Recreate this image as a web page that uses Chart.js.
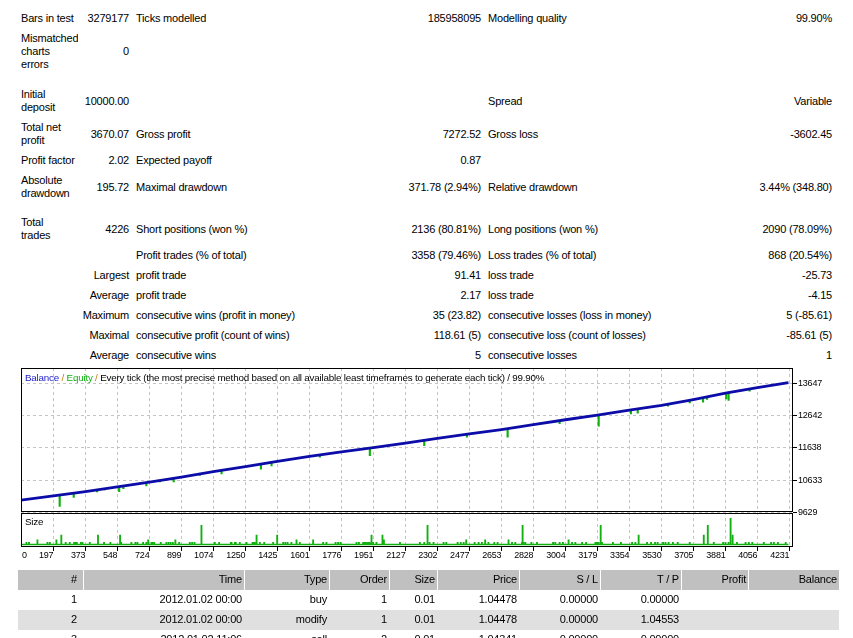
<!DOCTYPE html>
<html>
<head>
<meta charset="utf-8">
<title>Strategy Tester Report</title>
<script src="https://cdn.jsdelivr.net/npm/chart.js@4.4.1/dist/chart.umd.min.js"></script>
<style>
  html, body { margin: 0; padding: 0; background: #fff; overflow: hidden; }
  body { width: 853px; height: 638px; position: relative; font-family: "Liberation Sans", Arial, sans-serif; font-size: 11px; letter-spacing: -0.2px; color: #000; }
  #stats { position: absolute; left: 17px; top: 8px; width: 819px; border-collapse: separate; border-spacing: 1px; table-layout: fixed; }
  #stats td { padding: 3px; line-height: 13px; vertical-align: middle; white-space: nowrap; overflow: hidden; }
  #stats td.r { text-align: right; }
  #stats tr.gap td { height: 9px; padding: 0; }
  #stats tr.gap2 td { height: 8px; padding: 0; }
  #chartBox { position: absolute; left: 0; top: 360px; width: 853px; height: 212px; }
  #trades { position: absolute; left: 18px; top: 570px; width: 821px; border-collapse: separate; border-spacing: 0; table-layout: fixed; }
  #trades td { padding: 3px 2px 4px 0; line-height: 13px; text-align: right; white-space: nowrap; }
  #trades td:first-child { padding-right: 6px; }
  #trades tr.head td { background: #c0c0c0; border-left: 1px solid #fff; }
  #trades tr.head td:first-child { border-left: 0; }
  #trades tr.alt td { background: #e0e0e0; }
</style>
</head>
<body>

<table id="stats">
  <colgroup><col style="width:60px"><col style="width:53px"><col style="width:210px"><col style="width:140px"><col style="width:200px"><col style="width:149px"></colgroup>
  <tr><td>Bars in test</td><td class="r">3279177</td><td>Ticks modelled</td><td class="r">185958095</td><td>Modelling quality</td><td class="r">99.90%</td></tr>
  <tr><td>Mismatched<br>charts<br>errors</td><td class="r">0</td><td></td><td></td><td></td><td></td></tr>
  <tr class="gap"><td colspan="6"></td></tr>
  <tr><td>Initial<br>deposit</td><td class="r">10000.00</td><td></td><td></td><td>Spread</td><td class="r">Variable</td></tr>
  <tr><td>Total net<br>profit</td><td class="r">3670.07</td><td>Gross profit</td><td class="r">7272.52</td><td>Gross loss</td><td class="r">-3602.45</td></tr>
  <tr><td>Profit factor</td><td class="r">2.02</td><td>Expected payoff</td><td class="r">0.87</td><td></td><td></td></tr>
  <tr><td>Absolute<br>drawdown</td><td class="r">195.72</td><td>Maximal drawdown</td><td class="r">371.78 (2.94%)</td><td>Relative drawdown</td><td class="r">3.44% (348.80)</td></tr>
  <tr class="gap2"><td colspan="6"></td></tr>
  <tr><td>Total<br>trades</td><td class="r">4226</td><td>Short positions (won %)</td><td class="r">2136 (80.81%)</td><td>Long positions (won %)</td><td class="r">2090 (78.09%)</td></tr>
  <tr><td colspan="2"></td><td>Profit trades (% of total)</td><td class="r">3358 (79.46%)</td><td>Loss trades (% of total)</td><td class="r">868 (20.54%)</td></tr>
  <tr><td colspan="2" class="r">Largest</td><td>profit trade</td><td class="r">91.41</td><td>loss trade</td><td class="r">-25.73</td></tr>
  <tr><td colspan="2" class="r">Average</td><td>profit trade</td><td class="r">2.17</td><td>loss trade</td><td class="r">-4.15</td></tr>
  <tr><td colspan="2" class="r">Maximum</td><td>consecutive wins (profit in money)</td><td class="r">35 (23.82)</td><td>consecutive losses (loss in money)</td><td class="r">5 (-85.61)</td></tr>
  <tr><td colspan="2" class="r">Maximal</td><td>consecutive profit (count of wins)</td><td class="r">118.61 (5)</td><td>consecutive loss (count of losses)</td><td class="r">-85.61 (5)</td></tr>
  <tr><td colspan="2" class="r">Average</td><td>consecutive wins</td><td class="r">5</td><td>consecutive losses</td><td class="r">1</td></tr>
</table>

<div id="chartBox"><canvas id="equityChart" width="853" height="212"></canvas></div>

<table id="trades">
  <colgroup><col style="width:65px"><col style="width:161px"><col style="width:85px"><col style="width:60px"><col style="width:48px"><col style="width:82px"><col style="width:81px"><col style="width:81px"><col style="width:67px"><col style="width:91px"></colgroup>
  <tr class="head"><td>#</td><td>Time</td><td>Type</td><td>Order</td><td>Size</td><td>Price</td><td>S / L</td><td>T / P</td><td>Profit</td><td>Balance</td></tr>
  <tr><td>1</td><td>2012.01.02 00:00</td><td>buy</td><td>1</td><td>0.01</td><td>1.04478</td><td>0.00000</td><td>0.00000</td><td></td><td></td></tr>
  <tr class="alt"><td>2</td><td>2012.01.02 00:00</td><td>modify</td><td>1</td><td>0.01</td><td>1.04478</td><td>0.00000</td><td>1.04553</td><td></td><td></td></tr>
  <tr><td>3</td><td>2012.01.02 11:06</td><td>sell</td><td>2</td><td>0.01</td><td>1.04341</td><td>0.00000</td><td>0.00000</td><td></td><td></td></tr>
</table>

<script>
"use strict";

// axis labels as printed in the report picture
const xTickLabels = [0, 197, 373, 548, 724, 899, 1074, 1250, 1425, 1601, 1776, 1951, 2127,
    2302, 2477, 2653, 2828, 3004, 3179, 3354, 3530, 3705, 3881, 4056, 4231];
const yTickValues = [9629, 10633, 11638, 12642, 13647];

// balance curve, read at each grid line
const balanceTrades = [0, 197, 373, 548, 724, 899, 1074, 1250, 1425, 1601, 1776, 1951, 2127,
    2302, 2477, 2653, 2828, 3004, 3179, 3354, 3530, 3705, 3881, 4056, 4226];
const balanceValues = [10000, 10145, 10277, 10424, 10574, 10730, 10903, 11059, 11222, 11378,
    11513, 11647, 11788, 11935, 12073, 12210, 12361, 12514, 12661, 12811, 12958, 13140, 13343,
    13515, 13670];

// equity dips below the balance line (trade number, lowest equity, balance at that trade)
const dipTrades = [232, 309, 437, 479, 558, 581, 707, 781, 857, 1000, 1119, 1335, 1393, 1658,
    1932, 2230, 2464, 2687, 2972, 3186, 3363, 3400, 3566, 3685, 3758, 3780, 3885, 3898, 4013];
const dipLows = [9817, 10098, 10267, 10330, 10277, 10371, 10455, 10580, 10580, 10780, 10831,
    10974, 11081, 11350, 11394, 11707, 11976, 11976, 12395, 12311, 12695, 12717, 12935, 13040,
    13060, 13146, 13165, 13115, 13406];
const dipTops = [10160, 10215, 10315, 10345, 10420, 10450, 10565, 10635, 10680, 10810, 10925,
    11100, 11175, 11410, 11620, 11870, 12060, 12240, 12470, 12660, 12800, 12840, 12995, 13120,
    13200, 13225, 13320, 13340, 13470];

// lot sizes above the minimum lot
const baseLot = 0.01;
const totalTrades = 4226;
const sizeTrades = [50, 64, 110, 165, 178, 214, 241, 265, 287, 311, 318, 326, 348, 357, 397, 442,
    475, 510, 563, 569, 625, 647, 658, 689, 707, 717, 735, 742, 750, 786, 817, 829, 840, 852, 866,
    887, 945, 958, 971, 1009, 1082, 1106, 1170, 1174, 1192, 1197, 1219, 1256, 1289, 1296, 1302,
    1311, 1329, 1353, 1402, 1424, 1457, 1469, 1481, 1502, 1530, 1548, 1621, 1676, 1694, 1744,
    1758, 1771, 1859, 1872, 1895, 1902, 1909, 1917, 1924, 1932, 1941, 1950, 1968, 2001, 2009,
    2097, 2206, 2230, 2248, 2259, 2281, 2336, 2351, 2413, 2430, 2446, 2460, 2506, 2528, 2546,
    2564, 2582, 2614, 2632, 2692, 2711, 2729, 2766, 2769, 2775, 2784, 2817, 2848, 2936, 2948,
    2972, 2990, 3021, 3040, 3058, 3095, 3117, 3168, 3177, 3186, 3197, 3204, 3264, 3308, 3369,
    3387, 3405, 3451, 3473, 3495, 3509, 3539, 3552, 3569, 3593, 3619, 3685, 3762, 3784, 3817,
    3868, 3881, 3898, 3909, 3920, 3944, 3991, 4009, 4028, 4091, 4131, 4146, 4168, 4211];
const sizeLots = [0.02, 0.02, 0.03, 0.02, 0.02, 0.03, 0.05, 0.02, 0.02, 0.02, 0.02, 0.02, 0.02,
    0.02, 0.02, 0.05, 0.02, 0.02, 0.05, 0.02, 0.02, 0.02, 0.02, 0.02, 0.02, 0.03, 0.02, 0.02,
    0.02, 0.02, 0.02, 0.02, 0.02, 0.02, 0.03, 0.02, 0.02, 0.02, 0.02, 0.09, 0.02, 0.02, 0.02,
    0.02, 0.02, 0.02, 0.02, 0.02, 0.02, 0.02, 0.02, 0.05, 0.02, 0.02, 0.02, 0.05, 0.02, 0.02,
    0.02, 0.02, 0.03, 0.02, 0.03, 0.02, 0.02, 0.02, 0.02, 0.02, 0.02, 0.02, 0.02, 0.02, 0.02,
    0.02, 0.02, 0.02, 0.05, 0.02, 0.02, 0.05, 0.03, 0.02, 0.02, 0.02, 0.09, 0.02, 0.02, 0.02,
    0.02, 0.02, 0.02, 0.02, 0.03, 0.02, 0.02, 0.02, 0.03, 0.02, 0.02, 0.02, 0.03, 0.02, 0.02,
    0.02, 0.09, 0.02, 0.02, 0.02, 0.02, 0.02, 0.02, 0.02, 0.02, 0.03, 0.02, 0.02, 0.02, 0.02,
    0.02, 0.02, 0.02, 0.09, 0.02, 0.02, 0.02, 0.02, 0.02, 0.05, 0.02, 0.02, 0.02, 0.02, 0.02,
    0.02, 0.02, 0.02, 0.02, 0.02, 0.05, 0.09, 0.02, 0.02, 0.02, 0.02, 0.12, 0.05, 0.02, 0.02,
    0.02, 0.02, 0.02, 0.02, 0.02, 0.02, 0.02];

const titleParts = [
    { text: 'Balance', color: '#1a1ac8' },
    { text: ' / ', color: '#c07800' },
    { text: 'Equity', color: '#10b010' },
    { text: ' / ', color: '#c07800' },
    { text: 'Every tick (the most precise method based on all available least timeframes to generate each tick) / 99.90%', color: '#000000' }
];

const gridColor = '#c4c4c4';
const titleFont = '9.8px "Liberation Sans", Arial, sans-serif';
const labelFont = '9px "Liberation Sans", Arial, sans-serif';

Chart.defaults.font.family = '"Liberation Sans", Arial, sans-serif';
Chart.defaults.font.size = 9;
Chart.defaults.color = '#000000';

/**
 * Ramar, rubrik och x-etiketter ritas som i MT4-bilden.
 */
const reportFrame = {
    id: 'reportFrame',
    afterDraw(chart) {
        const { ctx, chartArea, scales } = chart;
        const main = scales.y;
        const size = scales.ySize;
        const x = scales.x;

        const left = Math.round(chartArea.left) + 0.5;
        const right = Math.round(chartArea.right) - 0.5;
        const mainTop = Math.floor(main.top) + 0.5;
        const mainBottom = Math.floor(main.bottom) - 0.5;
        const sizeTop = Math.floor(size.top) + 1.5;
        const sizeBottom = Math.round(size.bottom) - 0.5;

        ctx.save();
        ctx.strokeStyle = '#000000';
        ctx.lineWidth = 1;
        ctx.strokeRect(left, mainTop, right - left, mainBottom - mainTop);
        ctx.strokeRect(left, sizeTop, right - left, sizeBottom - sizeTop);

        ctx.font = titleFont;
        ctx.textBaseline = 'middle';
        ctx.textAlign = 'left';
        let tx = left + 3.5;
        titleParts.forEach(part => {
            ctx.fillStyle = part.color;
            ctx.fillText(part.text, tx, mainTop + 9.5);
            tx += ctx.measureText(part.text).width;
        });

        ctx.fillStyle = '#000000';
        ctx.fillText('Size', left + 3.5, sizeTop + 8.5);

        // MT4 skriver etiketten till vänster om stödlinjen
        ctx.font = labelFont;
        xTickLabels.forEach(value => {
            if (value < x.min) {
                ctx.textAlign = 'left';
                ctx.fillText(String(value), chartArea.left + 1, chartArea.bottom + 8.5);
            } else {
                ctx.textAlign = 'right';
                ctx.fillText(String(value), x.getPixelForValue(value), chartArea.bottom + 8.5);
            }
        });
        ctx.restore();
    }
};

const ctx = document.getElementById('equityChart');

new Chart(ctx, {
    data: {
        datasets: [
            {
                type: 'line',
                label: 'Balance',
                data: balanceTrades.map((t, i) => ({ x: t, y: balanceValues[i] })),
                borderColor: '#0c0ca8',
                borderWidth: 2.8,
                pointRadius: 0,
                tension: 0,
                xAxisID: 'x',
                yAxisID: 'y',
                order: 0
            },
            {
                type: 'bar',
                label: 'Equity',
                data: dipTrades.map((t, i) => ({ x: t, y: [dipLows[i], dipTops[i]] })),
                backgroundColor: '#10b010',
                barThickness: 1.5,
                grouped: false,
                xAxisID: 'x',
                yAxisID: 'y',
                order: 1
            },
            {
                type: 'bar',
                label: 'Size',
                data: sizeTrades.map((t, i) => ({ x: t, y: [baseLot, sizeLots[i]] })),
                backgroundColor: '#10b010',
                barThickness: 1.2,
                grouped: false,
                xAxisID: 'x',
                yAxisID: 'ySize',
                order: 2
            },
            {
                type: 'line',
                label: 'Min lot',
                data: [{ x: 0, y: baseLot }, { x: totalTrades, y: baseLot }],
                borderColor: '#10b010',
                borderWidth: 1.5,
                pointRadius: 0,
                xAxisID: 'x',
                yAxisID: 'ySize',
                order: 3
            }
        ]
    },
    options: {
        responsive: false,
        animation: false,
        devicePixelRatio: 1,
        events: [],
        layout: { padding: { left: 21, top: 8, right: 20, bottom: 10 } },
        plugins: {
            legend: { display: false },
            tooltip: { enabled: false },
            title: { display: false }
        },
        scales: {
            x: {
                type: 'linear',
                position: 'bottom',
                offset: false,
                min: 20,
                max: 4251,
                afterBuildTicks: scale => {
                    scale.ticks = xTickLabels.filter(v => v > scale.min).map(v => ({ value: v }));
                },
                afterFit: scale => { scale.height = 15; },
                ticks: { display: false },
                grid: { offset: false, color: gridColor, tickColor: '#000000', tickLength: 4, tickBorderDash: [] },
                border: { display: false, dash: [3, 3] }
            },
            y: {
                type: 'linear',
                position: 'right',
                stack: 'report',
                stackWeight: 144.5,
                min: 9629,
                max: 14124,
                afterBuildTicks: scale => {
                    scale.ticks = yTickValues.map(v => ({ value: v }));
                },
                afterFit: scale => { scale.width = 40; },
                ticks: { padding: 1, color: '#000000', font: { size: 9 }, callback: value => String(value) },
                grid: { color: gridColor, tickColor: '#000000', tickLength: 4, tickBorderDash: [] },
                border: { display: false, dash: [3, 3] }
            },
            ySize: {
                type: 'linear',
                position: 'right',
                stack: 'report',
                stackWeight: 34.5,
                min: 0,
                max: 0.144,
                afterFit: scale => { scale.width = 40; },
                ticks: { display: false },
                grid: { display: false },
                border: { display: false }
            }
        }
    },
    plugins: [reportFrame]
});
</script>
</body>
</html>
